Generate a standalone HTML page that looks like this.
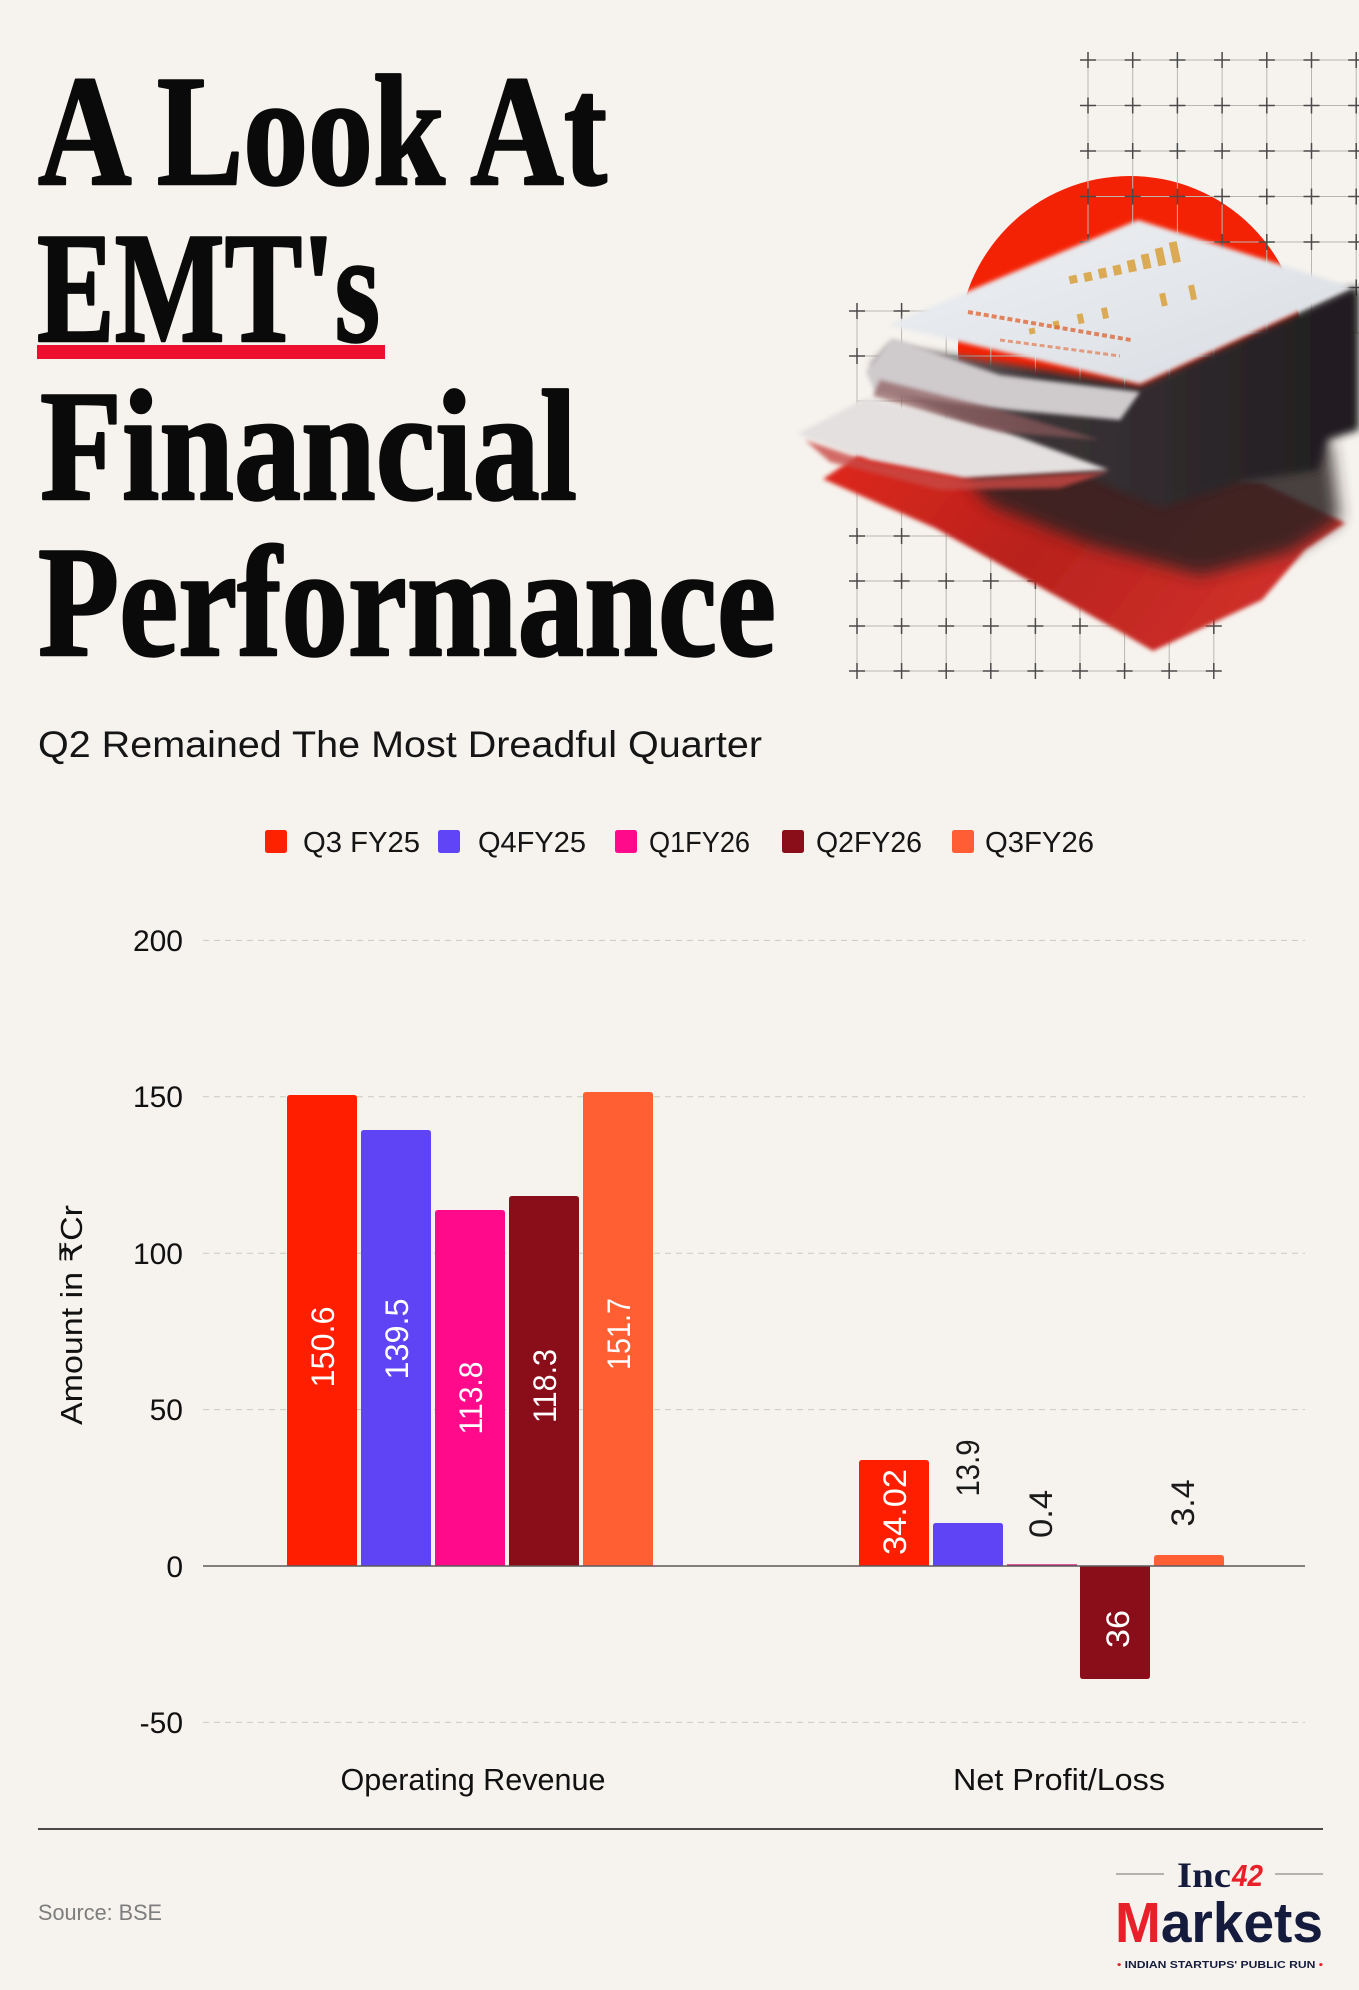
<!DOCTYPE html>
<html>
<head>
<meta charset="utf-8">
<style>
html,body{margin:0;padding:0;background:#f6f3ee;}
body{width:1359px;height:1990px;overflow:hidden;}
svg{display:block;}
</style>
</head>
<body>
<svg width="1359" height="1990" viewBox="0 0 1359 1990" xmlns="http://www.w3.org/2000/svg">
<defs>
  <filter id="b2" x="-10%" y="-10%" width="120%" height="120%"><feGaussianBlur stdDeviation="2"/></filter>
  <filter id="b4" x="-20%" y="-20%" width="140%" height="140%"><feGaussianBlur stdDeviation="4"/></filter>
  <filter id="b8" x="-20%" y="-20%" width="140%" height="140%"><feGaussianBlur stdDeviation="8"/></filter>
  <linearGradient id="redg" x1="0" y1="0" x2="1" y2="0.3">
    <stop offset="0" stop-color="#e0281e"/>
    <stop offset="0.5" stop-color="#b8221d"/>
    <stop offset="1" stop-color="#d0302a"/>
  </linearGradient>
  <linearGradient id="darkg" x1="0" y1="0" x2="1" y2="0">
    <stop offset="0" stop-color="#8a7f82"/>
    <stop offset="0.35" stop-color="#3a3336"/>
    <stop offset="1" stop-color="#1f1c1f"/>
  </linearGradient>
  <linearGradient id="sheetg" x1="0" y1="0" x2="1" y2="1">
    <stop offset="0" stop-color="#eef0f3"/>
    <stop offset="1" stop-color="#d9dde3"/>
  </linearGradient>
</defs>

<rect width="1359" height="1990" fill="#f6f3ee"/>

<!-- ===== Title ===== -->
<g font-family="'Liberation Serif', 'DejaVu Serif', serif" font-weight="bold" font-size="158" fill="#0a0a0a" stroke="#0a0a0a" stroke-width="2.5" stroke-linejoin="round">
  <text x="38" y="184" textLength="569" lengthAdjust="spacingAndGlyphs">A Look At</text>
  <text x="37" y="341" textLength="343" lengthAdjust="spacingAndGlyphs">EMT's</text>
  <text x="40" y="499" textLength="537" lengthAdjust="spacingAndGlyphs">Financial</text>
  <text x="38" y="655" textLength="738" lengthAdjust="spacingAndGlyphs">Performance</text>
</g>
<rect x="37" y="345" width="348" height="14" fill="#ee0f2f"/>

<text x="38" y="757" font-family="'Liberation Sans', Arial, sans-serif" font-size="37" fill="#151515" textLength="724" lengthAdjust="spacingAndGlyphs">Q2 Remained The Most Dreadful Quarter</text>

<!-- ===== Illustration ===== -->
<circle cx="1130" cy="348" r="172" fill="#f42205"/>

<!-- grids -->
<g stroke="#b9b5af" stroke-width="1">
  <line x1="1088" y1="60" x2="1088" y2="333"/>
  <line x1="1132.7" y1="60" x2="1132.7" y2="333"/>
  <line x1="1177.4" y1="60" x2="1177.4" y2="333"/>
  <line x1="1222.1" y1="60" x2="1222.1" y2="333"/>
  <line x1="1266.8" y1="60" x2="1266.8" y2="333"/>
  <line x1="1311.5" y1="60" x2="1311.5" y2="333"/>
  <line x1="1356.2" y1="60" x2="1356.2" y2="333"/>
  <line x1="1088" y1="60" x2="1359" y2="60"/>
  <line x1="1088" y1="105.5" x2="1359" y2="105.5"/>
  <line x1="1088" y1="151" x2="1359" y2="151"/>
  <line x1="1088" y1="196.5" x2="1359" y2="196.5"/>
  <line x1="1088" y1="242" x2="1359" y2="242"/>
  <line x1="1088" y1="287.5" x2="1359" y2="287.5"/>
  <line x1="1088" y1="333" x2="1359" y2="333"/>
  <line x1="857" y1="311" x2="857" y2="671"/>
  <line x1="901.6" y1="311" x2="901.6" y2="671"/>
  <line x1="946.2" y1="311" x2="946.2" y2="671"/>
  <line x1="990.8" y1="311" x2="990.8" y2="671"/>
  <line x1="1035.4" y1="311" x2="1035.4" y2="671"/>
  <line x1="1080" y1="311" x2="1080" y2="671"/>
  <line x1="1124.6" y1="311" x2="1124.6" y2="671"/>
  <line x1="1169.2" y1="311" x2="1169.2" y2="671"/>
  <line x1="1213.8" y1="311" x2="1213.8" y2="671"/>
  <line x1="857" y1="311" x2="1214" y2="311"/>
  <line x1="857" y1="356" x2="1214" y2="356"/>
  <line x1="857" y1="401" x2="1214" y2="401"/>
  <line x1="857" y1="446" x2="1214" y2="446"/>
  <line x1="857" y1="491" x2="1214" y2="491"/>
  <line x1="857" y1="536" x2="1214" y2="536"/>
  <line x1="857" y1="581" x2="1214" y2="581"/>
  <line x1="857" y1="626" x2="1214" y2="626"/>
  <line x1="857" y1="671" x2="1214" y2="671"/>
</g>
<g stroke="#4a4a4a" stroke-width="1.5">
  <path d="
  M1080,60h16M1088,52v16 M1124.7,60h16M1132.7,52v16 M1169.4,60h16M1177.4,52v16 M1214.1,60h16M1222.1,52v16 M1258.8,60h16M1266.8,52v16 M1303.5,60h16M1311.5,52v16 M1348.2,60h16M1356.2,52v16
  M1080,105.5h16M1088,97.5v16 M1124.7,105.5h16M1132.7,97.5v16 M1169.4,105.5h16M1177.4,97.5v16 M1214.1,105.5h16M1222.1,97.5v16 M1258.8,105.5h16M1266.8,97.5v16 M1303.5,105.5h16M1311.5,97.5v16 M1348.2,105.5h16M1356.2,97.5v16
  M1080,151h16M1088,143v16 M1124.7,151h16M1132.7,143v16 M1169.4,151h16M1177.4,143v16 M1214.1,151h16M1222.1,143v16 M1258.8,151h16M1266.8,143v16 M1303.5,151h16M1311.5,143v16 M1348.2,151h16M1356.2,143v16
  M1080,196.5h16M1088,188.5v16 M1124.7,196.5h16M1132.7,188.5v16 M1169.4,196.5h16M1177.4,188.5v16 M1214.1,196.5h16M1222.1,188.5v16 M1258.8,196.5h16M1266.8,188.5v16 M1303.5,196.5h16M1311.5,188.5v16 M1348.2,196.5h16M1356.2,188.5v16
  M1080,242h16M1088,234v16 M1124.7,242h16M1132.7,234v16 M1169.4,242h16M1177.4,234v16 M1214.1,242h16M1222.1,234v16 M1258.8,242h16M1266.8,234v16 M1303.5,242h16M1311.5,234v16 M1348.2,242h16M1356.2,234v16
  M1303.5,287.5h16M1311.5,279.5v16 M1348.2,287.5h16M1356.2,279.5v16
  M849,311h16M857,303v16 M893.6,311h16M901.6,303v16
  M849,356h16M857,348v16 M893.6,356h16M901.6,348v16
  M849,536h16M857,528v16 M893.6,536h16M901.6,528v16
  M849,581h16M857,573v16 M893.6,581h16M901.6,573v16 M938.2,581h16M946.2,573v16 M982.8,581h16M990.8,573v16 M1027.4,581h16M1035.4,573v16
  M849,626h16M857,618v16 M893.6,626h16M901.6,618v16 M938.2,626h16M946.2,618v16 M982.8,626h16M990.8,618v16 M1027.4,626h16M1035.4,618v16 M1072,626h16M1080,618v16 M1161.2,626h16M1169.2,618v16 M1205.8,626h16M1213.8,618v16
  M849,671h16M857,663v16 M893.6,671h16M901.6,663v16 M938.2,671h16M946.2,663v16 M982.8,671h16M990.8,663v16 M1027.4,671h16M1035.4,663v16 M1072,671h16M1080,663v16 M1116.6,671h16M1124.6,663v16 M1161.2,671h16M1169.2,663v16 M1205.8,671h16M1213.8,663v16
  " fill="none"/>
</g>

<!-- paper stack -->
<g>
  <path d="M823,479 L863,452 L1000,466 L1262,483 L1345,523 L1305,550 L1262,600 L1153,651 L1124,634 L935,528 Z" fill="url(#redg)" filter="url(#b2)"/>
  <path d="M960,470 L1330,440 L1340,520 L1290,552 L1200,575 L1090,545 L990,505 Z" fill="#2a2224" opacity="0.85" filter="url(#b8)"/>
  <path d="M890,345 L1140,385 L1352,287 L1359,290 L1359,430 L1328,440 L1318,470 L1240,482 L1160,508 L1100,482 L1000,440 L900,395 L870,365 Z" fill="url(#darkg)" filter="url(#b4)"/>
  <path d="M797,434 L866,398 L1000,430 L1109,470 L964,478 L870,460 Z" fill="#e4e0e0" filter="url(#b2)"/>
  <path d="M805,440 L870,462 L964,480 L1109,472 L1060,488 L940,490 L830,462 Z" fill="#c94a44" opacity="0.8" filter="url(#b2)"/>
  <path d="M866,372 L892,338 L1000,375 L1140,392 L1120,420 L990,408 L875,392 Z" fill="#cfcacc" filter="url(#b2)"/>
  <path d="M873,396 L880,380 L1000,410 L1100,440 L1000,432 Z" fill="#8c5a5c" opacity="0.7" filter="url(#b2)"/>
  <path d="M888,325 L1138,220 L1352,287 L1140,384 Z" fill="url(#sheetg)" filter="url(#b2)"/>
  <g fill="#d9a13a" opacity="0.85" transform="rotate(-12 1140 300)">
    <rect x="1075" y="262" width="8" height="8"/>
    <rect x="1090" y="262" width="8" height="9"/>
    <rect x="1105" y="261" width="8" height="10"/>
    <rect x="1120" y="261" width="8" height="10"/>
    <rect x="1135" y="259" width="8" height="12"/>
    <rect x="1150" y="256" width="8" height="15"/>
    <rect x="1165" y="253" width="8" height="18"/>
    <rect x="1180" y="250" width="8" height="21"/>
    <rect x="1025" y="305" width="6" height="6"/>
    <rect x="1050" y="303" width="6" height="8"/>
    <rect x="1075" y="301" width="6" height="10"/>
    <rect x="1100" y="300" width="6" height="11"/>
    <rect x="1160" y="298" width="6" height="13"/>
    <rect x="1190" y="296" width="6" height="15"/>
  </g>
  <path d="M968,312 L1131,340" stroke="#e06a3a" stroke-width="4" stroke-dasharray="5 3" opacity="0.8"/>
  <path d="M1000,340 L1120,356" stroke="#e06a3a" stroke-width="3" stroke-dasharray="5 3" opacity="0.6"/>
</g>

<!-- ===== Legend ===== -->
<g font-family="'Liberation Sans', Arial, sans-serif" font-size="28.5" fill="#151515">
  <rect x="265" y="830" width="22" height="23" rx="2.5" fill="#ff2200"/>
  <text x="303" y="852" textLength="117" lengthAdjust="spacingAndGlyphs">Q3 FY25</text>
  <rect x="438" y="830" width="22" height="23" rx="2.5" fill="#5f45f6"/>
  <text x="478" y="852" textLength="108" lengthAdjust="spacingAndGlyphs">Q4FY25</text>
  <rect x="615" y="830" width="22" height="23" rx="2.5" fill="#ff0a8a"/>
  <text x="649" y="852" textLength="101" lengthAdjust="spacingAndGlyphs">Q1FY26</text>
  <rect x="782" y="830" width="22" height="23" rx="2.5" fill="#8a0e1a"/>
  <text x="816" y="852" textLength="106" lengthAdjust="spacingAndGlyphs">Q2FY26</text>
  <rect x="952" y="830" width="22" height="23" rx="2.5" fill="#ff5e34"/>
  <text x="985" y="852" textLength="109" lengthAdjust="spacingAndGlyphs">Q3FY26</text>
</g>

<!-- ===== Chart ===== -->
<g stroke="#cdc8c1" stroke-width="1" stroke-dasharray="6 5">
  <line x1="203" y1="940.4" x2="1305" y2="940.4"/>
  <line x1="203" y1="1096.8" x2="1305" y2="1096.8"/>
  <line x1="203" y1="1253.2" x2="1305" y2="1253.2"/>
  <line x1="203" y1="1409.6" x2="1305" y2="1409.6"/>
  <line x1="203" y1="1722.4" x2="1305" y2="1722.4"/>
</g>

<g font-family="'Liberation Sans', Arial, sans-serif" font-size="30" fill="#111" text-anchor="end">
  <text x="183" y="951">200</text>
  <text x="183" y="1107">150</text>
  <text x="183" y="1264">100</text>
  <text x="183" y="1420">50</text>
  <text x="183" y="1577">0</text>
  <text x="183" y="1733">-50</text>
</g>

<text transform="translate(82,1315) rotate(-90)" text-anchor="middle" font-family="'Liberation Sans', 'DejaVu Sans', sans-serif" font-size="31" fill="#111" textLength="220" lengthAdjust="spacingAndGlyphs">Amount in ₹Cr</text>

<!-- bars -->
<path d="M287,1566V1098Q287,1095 290,1095H354Q357,1095 357,1098V1566Z" fill="#ff1e00"/>
<path d="M361,1566V1133Q361,1130 364,1130H428Q431,1130 431,1133V1566Z" fill="#5f44f6"/>
<path d="M435,1566V1213Q435,1210 438,1210H502Q505,1210 505,1213V1566Z" fill="#ff0a8a"/>
<path d="M509,1566V1199Q509,1196 512,1196H576Q579,1196 579,1199V1566Z" fill="#8a0d1a"/>
<path d="M583,1566V1095Q583,1092 586,1092H650Q653,1092 653,1095V1566Z" fill="#ff5f33"/>

<path d="M859,1566V1463Q859,1460 862,1460H926Q929,1460 929,1463V1566Z" fill="#ff1e00"/>
<path d="M933,1566V1526Q933,1523 936,1523H1000Q1003,1523 1003,1526V1566Z" fill="#5f44f6"/>
<rect x="1007" y="1564.3" width="70" height="1.7" fill="#d21a7a"/>
<path d="M1080,1566V1676Q1080,1679 1083,1679H1147Q1150,1679 1150,1676V1566Z" fill="#8a0d1a"/>
<path d="M1154,1566V1558Q1154,1555 1157,1555H1221Q1224,1555 1224,1558V1566Z" fill="#ff5f33"/>

<line x1="203" y1="1566" x2="1305" y2="1566" stroke="#5a5a5a" stroke-width="1.5"/>

<!-- bar labels -->
<g font-family="'Liberation Sans', Arial, sans-serif" font-size="32" text-anchor="middle">
  <text transform="translate(334,1347) rotate(-90)" fill="#fff" textLength="81" lengthAdjust="spacingAndGlyphs">150.6</text>
  <text transform="translate(408,1339) rotate(-90)" fill="#fff" textLength="81" lengthAdjust="spacingAndGlyphs">139.5</text>
  <text transform="translate(482,1398) rotate(-90)" fill="#fff" textLength="73" lengthAdjust="spacingAndGlyphs">113.8</text>
  <text transform="translate(556,1386) rotate(-90)" fill="#fff" textLength="74" lengthAdjust="spacingAndGlyphs">118.3</text>
  <text transform="translate(630,1334) rotate(-90)" fill="#fff" textLength="72" lengthAdjust="spacingAndGlyphs">151.7</text>
  <text transform="translate(906,1512) rotate(-90)" fill="#fff" textLength="86" lengthAdjust="spacingAndGlyphs">34.02</text>
  <text transform="translate(979,1468) rotate(-90)" fill="#1a1a1a" textLength="57" lengthAdjust="spacingAndGlyphs">13.9</text>
  <text transform="translate(1052,1514) rotate(-90)" fill="#1a1a1a" textLength="48" lengthAdjust="spacingAndGlyphs">0.4</text>
  <text transform="translate(1129,1629) rotate(-90)" fill="#fff" textLength="38" lengthAdjust="spacingAndGlyphs">36</text>
  <text transform="translate(1194,1503) rotate(-90)" fill="#1a1a1a" textLength="47" lengthAdjust="spacingAndGlyphs">3.4</text>
</g>

<!-- category labels -->
<g font-family="'Liberation Sans', Arial, sans-serif" font-size="31" fill="#111" text-anchor="middle">
  <text x="473" y="1790" textLength="265" lengthAdjust="spacingAndGlyphs">Operating Revenue</text>
  <text x="1059" y="1790" textLength="212" lengthAdjust="spacingAndGlyphs">Net Profit/Loss</text>
</g>

<line x1="38" y1="1829" x2="1323" y2="1829" stroke="#4a4a4a" stroke-width="2"/>

<text x="38" y="1920" font-family="'Liberation Sans', Arial, sans-serif" font-size="22" fill="#7d7d7d" textLength="124" lengthAdjust="spacingAndGlyphs">Source: BSE</text>

<!-- logo -->
<line x1="1116" y1="1874" x2="1164" y2="1874" stroke="#8a8a8a" stroke-width="1.3"/>
<line x1="1275" y1="1874" x2="1323" y2="1874" stroke="#8a8a8a" stroke-width="1.3"/>
<text x="1177" y="1887" font-family="'Liberation Serif', serif" font-weight="bold" font-size="36" fill="#141b3c" textLength="54" lengthAdjust="spacingAndGlyphs">Inc</text>
<text x="1232" y="1886" font-family="'Liberation Sans', sans-serif" font-weight="bold" font-style="italic" font-size="31" fill="#e8202a" textLength="31" lengthAdjust="spacingAndGlyphs">42</text>
<text x="1115" y="1942" font-family="'Liberation Sans', sans-serif" font-weight="bold" font-size="57" textLength="208" lengthAdjust="spacingAndGlyphs"><tspan fill="#e8202a">M</tspan><tspan fill="#141b3c">arkets</tspan></text>
<text x="1117" y="1968" font-family="'Liberation Sans', sans-serif" font-weight="bold" font-size="10" fill="#141b3c" textLength="206" lengthAdjust="spacingAndGlyphs"><tspan fill="#e8202a">•</tspan> INDIAN STARTUPS' PUBLIC RUN <tspan fill="#e8202a">•</tspan></text>
</svg>
</body>
</html>
